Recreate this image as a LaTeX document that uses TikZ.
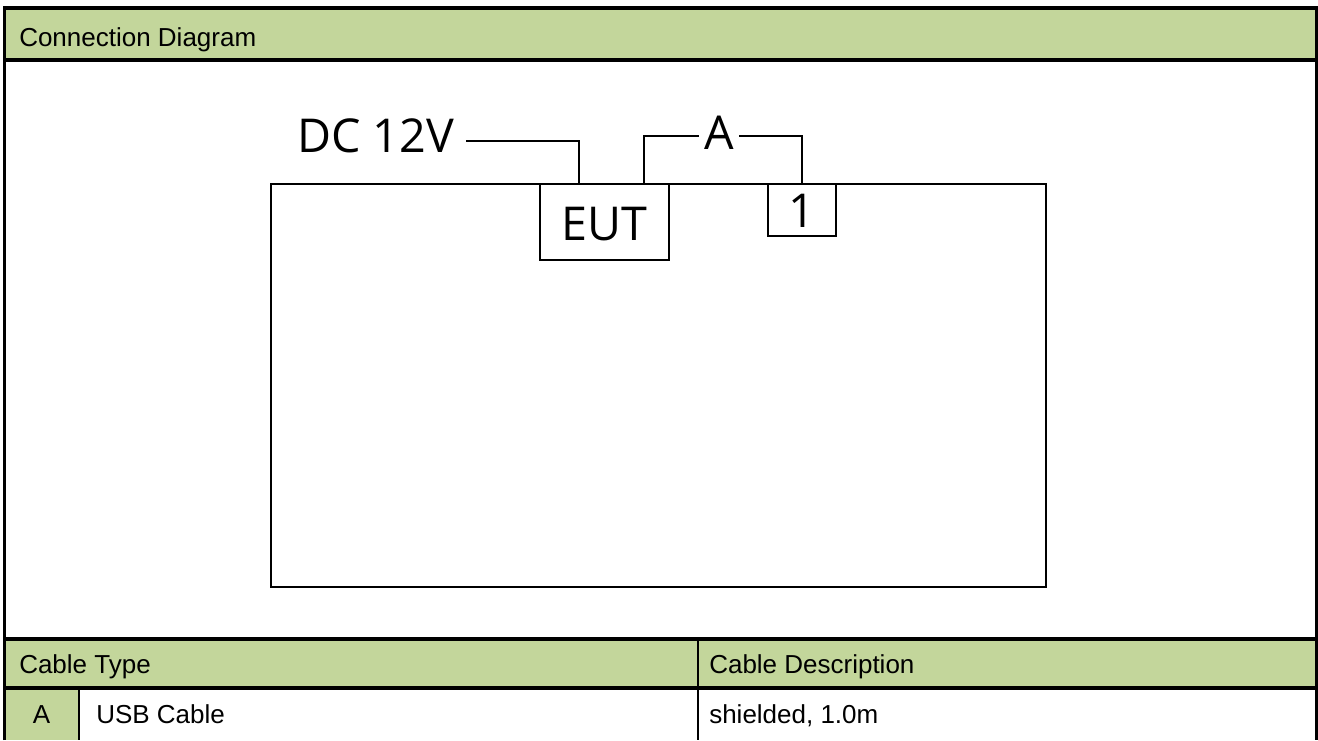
\documentclass[tikz,border=0pt]{standalone}
\usepackage{fontspec}
\setmainfont{Liberation Sans}
\newfontfamily\diafont{Open Sans}
\definecolor{hdrgreen}{HTML}{C3D69B}
\begin{document}
\begin{tikzpicture}[x=0.75pt,y=-0.75pt,
  frame/.style={line width=2.4pt,black},
  divider/.style={line width=1.5pt,black},
  wire/.style={line width=1.5pt,black},
  box/.style={draw=black,line width=1.5pt,inner sep=0pt},
  tabtext/.style={inner sep=0pt,font=\fontsize{19.5}{23}\selectfont},
  diatext/.style={inner sep=0pt,font=\diafont\fontsize{35}{40}\selectfont}]
\useasboundingbox (0,0) rectangle (1318,740);
% fills
\fill[hdrgreen] (4.5,8) rectangle (1316.5,60);
\fill[hdrgreen] (4.5,639) rectangle (1316.5,688);
\fill[hdrgreen] (4.5,688) rectangle (79,740);
% table lines
\draw[frame] (4.5,740) -- (4.5,8) -- (1316.5,8) -- (1316.5,740);
\draw[frame] (4.5,60) -- (1316.5,60);
\draw[frame] (4.5,639) -- (1316.5,639);
\draw[frame] (4.5,688) -- (1316.5,688);
\draw[divider] (79,688) -- (79,740);
\draw[divider] (698,639) -- (698,740);
% table texts
\node[tabtext,anchor=base west] (title) at (19,46) {Connection Diagram};
\node[tabtext,anchor=base west] (ctype) at (19,673) {Cable Type};
\node[tabtext,anchor=base west] (cdesc) at (709,673) {Cable Description};
\node[tabtext,anchor=base] (cella) at (41.5,723) {A};
\node[tabtext,anchor=base west] (usb) at (96,723) {USB Cable};
\node[tabtext,anchor=base west] (shield) at (709,723) {shielded, 1.0m};
% diagram
\node[box,minimum width=581.25pt,minimum height=302.25pt] (table) at (658.5,385.5) {};
\node[box,fill=white,minimum width=96.75pt,minimum height=57pt] (eut) at (604.5,222) {};
\node[diatext,anchor=base] (euttext) at (604.5,240) {EUT};
\node[box,fill=white,minimum width=51pt,minimum height=39pt] (one) at (802,210) {};
\node[diatext,anchor=base] (onetext) at (802,227) {1};
\node[diatext,anchor=base west] (dc) at (297,152) {DC 12V};
\node[diatext,anchor=base,inner sep=4pt] (alab) at (719,149) {A};
\coordinate (dcend) at (466,140.7);
\coordinate (eutdc) at (579,184);
\coordinate (eutA) at (644,184);
\draw[wire] (dcend) -| (eutdc);
\draw[wire] (eutA) |- (alab.west |- 0,136);
\draw[wire] (alab.east |- 0,136) -| (one.north);
\end{tikzpicture}
\end{document}
